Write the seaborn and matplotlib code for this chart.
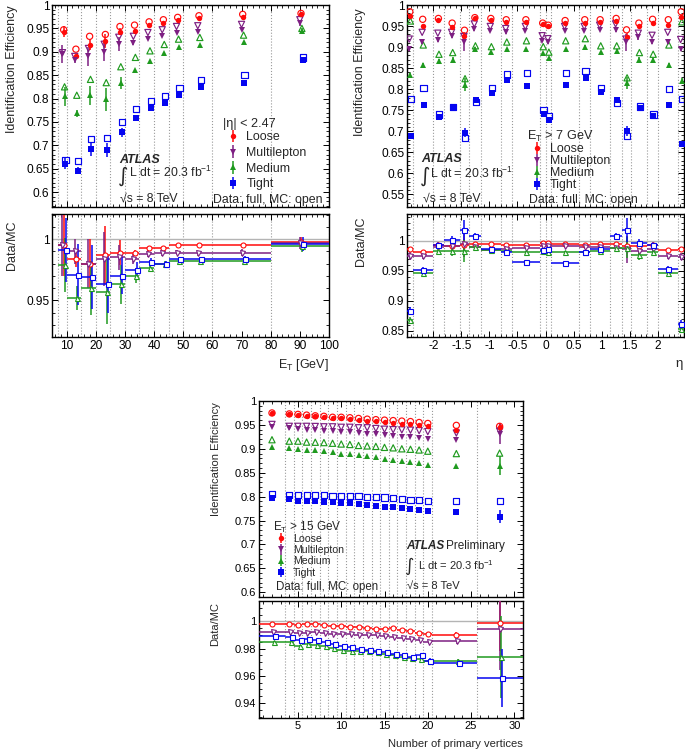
import numpy as np
import matplotlib
matplotlib.use("Agg")
import matplotlib.pyplot as plt
import seaborn as sns
from matplotlib.ticker import MultipleLocator, AutoMinorLocator, FuncFormatter

# ---------------- data: efficiency vs E_T ----------------
et_x = [9.0, 13.2, 17.9, 23.3, 28.3, 33.3, 38.3, 43.2, 48.1, 55.4, 70.4, 90.4]
et_edges = [7, 10, 15, 20, 25, 30, 35, 40, 45, 50, 60, 80, 100]

et_loose = [0.943, 0.890, 0.915, 0.923, 0.943, 0.945, 0.957, 0.961, 0.9685, 0.9714, 0.9735, 0.980]
et_loose_mc = [0.947, 0.9055, 0.933, 0.937, 0.954, 0.957, 0.964, 0.9685, 0.9735, 0.977, 0.980, 0.982]
et_loose_err = [0.012, 0.004, 0.012, 0.014, 0.008, 0.003, 0.002, 0.002, 0.002, 0.002, 0.002, 0.004]
et_ml = [0.895, 0.883, 0.890, 0.900, 0.916, 0.918, 0.928, 0.934, 0.941, 0.943, 0.947, 0.961]
et_ml_mc = [0.898, 0.890, 0.907, 0.916, 0.931, 0.933, 0.941, 0.947, 0.954, 0.9556, 0.9585, 0.9685]
et_ml_err = [0.02, 0.008, 0.02, 0.02, 0.015, 0.004, 0.003, 0.002, 0.002, 0.002, 0.003, 0.006]
et_med = [0.805, 0.768, 0.807, 0.798, 0.833, 0.860, 0.880, 0.897, 0.9106, 0.914, 0.920, 0.945]
et_med_mc = [0.825, 0.807, 0.841, 0.834, 0.868, 0.888, 0.902, 0.9156, 0.927, 0.9306, 0.9356, 0.950]
et_med_err = [0.02, 0.008, 0.02, 0.025, 0.012, 0.004, 0.003, 0.002, 0.002, 0.002, 0.003, 0.006]
et_tight = [0.661, 0.646, 0.691, 0.689, 0.728, 0.758, 0.780, 0.790, 0.808, 0.825, 0.834, 0.883]
et_tight_mc = [0.669, 0.666, 0.714, 0.716, 0.750, 0.777, 0.794, 0.805, 0.823, 0.840, 0.850, 0.8877]
et_tight_err = [0.012, 0.007, 0.014, 0.015, 0.01, 0.004, 0.003, 0.003, 0.002, 0.002, 0.003, 0.005]

et_loose_r = [0.995, 0.9835, 0.980, 0.987, 0.989, 0.989, 0.9925, 0.993, 0.995, 0.995, 0.995, 0.998]
et_loose_rerr = [0.025, 0.006, 0.02, 0.024, 0.01, 0.002, 0.002, 0.001, 0.001, 0.001, 0.001, 0.004]
et_ml_r = [0.995, 0.990, 0.980, 0.9835, 0.985, 0.984, 0.988, 0.9885, 0.989, 0.9885, 0.989, 0.997]
et_ml_rerr = [0.025, 0.01, 0.02, 0.022, 0.01, 0.004, 0.003, 0.002, 0.002, 0.002, 0.003, 0.005]
et_med_r = [0.979, 0.952, 0.960, 0.957, 0.963, 0.970, 0.976, 0.980, 0.982, 0.982, 0.982, 0.9945]
et_med_rerr = [0.022, 0.01, 0.022, 0.026, 0.016, 0.006, 0.003, 0.002, 0.002, 0.002, 0.003, 0.005]
et_tight_r = [0.991, 0.971, 0.969, 0.963, 0.970, 0.975, 0.9815, 0.980, 0.9835, 0.9835, 0.9835, 0.996]
et_tight_rerr = [0.026, 0.025, 0.026, 0.023, 0.015, 0.006, 0.003, 0.002, 0.002, 0.002, 0.003, 0.006]

# ---------------- data: efficiency vs eta ----------------
eta_x = [-2.42, -2.19, -1.91, -1.665, -1.445, -1.26, -0.975, -0.7, -0.35, -0.05,
         0.05, 0.35, 0.7, 0.975, 1.26, 1.445, 1.665, 1.91, 2.19, 2.42]
eta_edges = [-2.47, -2.37, -2.01, -1.81, -1.52, -1.37, -1.15, -0.8, -0.6, -0.1, 0.0,
             0.1, 0.6, 0.8, 1.15, 1.37, 1.52, 1.81, 2.01, 2.37, 2.47]

eta_loose = [0.973, 0.949, 0.965, 0.947, 0.927, 0.968, 0.965, 0.959, 0.960, 0.955,
             0.949, 0.957, 0.957, 0.960, 0.963, 0.925, 0.949, 0.957, 0.952, 0.972]
eta_loose_mc = [0.984, 0.966, 0.968, 0.957, 0.940, 0.970, 0.968, 0.965, 0.965, 0.957,
                0.952, 0.963, 0.965, 0.965, 0.968, 0.941, 0.957, 0.966, 0.965, 0.984]
eta_loose_err = [0.003, 0.002, 0.002, 0.003, 0.008, 0.002, 0.002, 0.002, 0.002, 0.002,
                 0.002, 0.002, 0.002, 0.002, 0.002, 0.008, 0.003, 0.002, 0.002, 0.003]
eta_ml = [0.896, 0.912, 0.917, 0.927, 0.911, 0.943, 0.939, 0.935, 0.939, 0.915,
          0.911, 0.939, 0.939, 0.941, 0.941, 0.911, 0.923, 0.912, 0.912, 0.896]
eta_ml_mc = [0.919, 0.935, 0.933, 0.935, 0.925, 0.955, 0.949, 0.944, 0.949, 0.927,
             0.920, 0.949, 0.949, 0.952, 0.955, 0.919, 0.933, 0.928, 0.935, 0.918]
eta_ml_err = [0.006, 0.004, 0.004, 0.006, 0.02, 0.004, 0.003, 0.003, 0.003, 0.003,
              0.003, 0.003, 0.003, 0.003, 0.004, 0.02, 0.006, 0.004, 0.004, 0.006]
eta_med = [0.833, 0.857, 0.867, 0.869, 0.811, 0.896, 0.888, 0.896, 0.896, 0.885,
           0.873, 0.896, 0.901, 0.888, 0.891, 0.815, 0.869, 0.869, 0.857, 0.820]
eta_med_mc = [0.962, 0.905, 0.883, 0.887, 0.825, 0.903, 0.901, 0.912, 0.915, 0.901,
              0.888, 0.915, 0.920, 0.903, 0.903, 0.827, 0.887, 0.883, 0.905, 0.960]
eta_med_err = [0.006, 0.006, 0.005, 0.008, 0.015, 0.004, 0.003, 0.003, 0.003, 0.003,
               0.003, 0.003, 0.003, 0.003, 0.004, 0.015, 0.008, 0.005, 0.006, 0.006]
eta_tight = [0.688, 0.763, 0.734, 0.755, 0.697, 0.775, 0.791, 0.822, 0.807, 0.742,
             0.726, 0.809, 0.827, 0.793, 0.775, 0.700, 0.755, 0.737, 0.762, 0.670]
eta_tight_mc = [0.777, 0.802, 0.740, 0.758, 0.684, 0.770, 0.803, 0.835, 0.839, 0.751,
                0.736, 0.839, 0.843, 0.803, 0.767, 0.689, 0.759, 0.740, 0.800, 0.777]
eta_tight_err = [0.004, 0.004, 0.004, 0.004, 0.01, 0.004, 0.003, 0.003, 0.003, 0.003,
                 0.003, 0.003, 0.003, 0.003, 0.004, 0.012, 0.004, 0.004, 0.004, 0.004]

eta_loose_r = [0.986, 0.982, 0.993, 0.992, 0.994, 0.9955, 0.9955, 0.993, 0.993, 0.997,
               0.997, 0.9945, 0.993, 0.9945, 0.9945, 0.992, 0.992, 0.993, 0.985, 0.987]
eta_loose_rerr = [0.003, 0.002, 0.002, 0.003, 0.01, 0.002, 0.002, 0.002, 0.002, 0.002,
                  0.002, 0.002, 0.002, 0.002, 0.002, 0.01, 0.003, 0.002, 0.002, 0.003]
eta_ml_r = [0.975, 0.975, 0.9905, 0.992, 0.9955, 0.990, 0.985, 0.987, 0.989, 0.9915,
            0.991, 0.9915, 0.990, 0.990, 0.988, 0.986, 0.983, 0.986, 0.975, 0.974]
eta_ml_rerr = [0.006, 0.005, 0.004, 0.006, 0.022, 0.004, 0.003, 0.003, 0.003, 0.003,
               0.003, 0.003, 0.003, 0.003, 0.004, 0.022, 0.006, 0.004, 0.005, 0.006]
eta_med_r = [0.868, 0.946, 0.983, 0.983, 0.983, 0.9905, 0.985, 0.983, 0.981, 0.983,
             0.982, 0.981, 0.981, 0.983, 0.988, 0.989, 0.977, 0.982, 0.946, 0.854]
eta_med_rerr = [0.006, 0.005, 0.005, 0.008, 0.018, 0.004, 0.003, 0.003, 0.003, 0.003,
                0.003, 0.003, 0.003, 0.003, 0.004, 0.018, 0.008, 0.005, 0.005, 0.006]
eta_tight_r = [0.883, 0.952, 0.993, 1.0017, 1.018, 1.008, 0.986, 0.982, 0.965, 0.985,
               0.987, 0.964, 0.982, 0.986, 1.009, 1.019, 0.997, 0.994, 0.953, 0.861]
eta_tight_rerr = [0.007, 0.005, 0.005, 0.006, 0.017, 0.005, 0.003, 0.003, 0.003, 0.003,
                  0.003, 0.003, 0.003, 0.003, 0.005, 0.02, 0.006, 0.005, 0.005, 0.007]

# ---------------- data: efficiency vs number of primary vertices ----------------
npv_x = [2, 4, 5, 6, 7, 8, 9, 10, 11, 12, 13, 14, 15, 16, 17, 18, 19, 20, 23.3, 28.3]
npv_edges = [0.5, 3.5, 4.5, 5.5, 6.5, 7.5, 8.5, 9.5, 10.5, 11.5, 12.5, 13.5, 14.5,
             15.5, 16.5, 17.5, 18.5, 19.5, 20.5, 25.7, 31.0]

npv_loose = [0.974, 0.972, 0.9705, 0.969, 0.968, 0.966, 0.965, 0.9635, 0.962, 0.961,
             0.959, 0.958, 0.956, 0.9537, 0.952, 0.951, 0.949, 0.947, 0.940, 0.945]
npv_loose_mc = [0.975, 0.973, 0.972, 0.9705, 0.969, 0.968, 0.966, 0.966, 0.965, 0.9635,
                0.962, 0.961, 0.960, 0.959, 0.958, 0.957, 0.955, 0.953, 0.949, 0.947]
npv_loose_err = [0.001, 0.001, 0.001, 0.001, 0.001, 0.001, 0.001, 0.001, 0.001, 0.001,
                 0.001, 0.001, 0.001, 0.001, 0.001, 0.001, 0.001, 0.001, 0.003, 0.01]
npv_ml = [0.945, 0.9425, 0.942, 0.940, 0.9396, 0.938, 0.937, 0.9355, 0.935, 0.933,
          0.932, 0.9305, 0.928, 0.927, 0.9256, 0.925, 0.9235, 0.921, 0.919, 0.931]
npv_ml_mc = [0.951, 0.947, 0.947, 0.947, 0.9467, 0.946, 0.946, 0.945, 0.945, 0.944,
             0.944, 0.9425, 0.941, 0.940, 0.9396, 0.939, 0.938, 0.936, 0.933, 0.937]
npv_ml_err = [0.001, 0.001, 0.001, 0.001, 0.001, 0.001, 0.001, 0.001, 0.001, 0.001,
              0.001, 0.001, 0.001, 0.001, 0.001, 0.001, 0.001, 0.002, 0.003, 0.02]
npv_med = [0.903, 0.902, 0.899, 0.8975, 0.897, 0.896, 0.893, 0.890, 0.889, 0.886,
           0.885, 0.883, 0.879, 0.877, 0.875, 0.872, 0.870, 0.867, 0.863, 0.865]
npv_med_mc = [0.919, 0.916, 0.916, 0.914, 0.9137, 0.913, 0.9116, 0.910, 0.909, 0.907,
              0.906, 0.905, 0.903, 0.902, 0.900, 0.899, 0.8975, 0.895, 0.890, 0.891]
npv_med_err = [0.001, 0.001, 0.001, 0.001, 0.001, 0.001, 0.001, 0.001, 0.001, 0.001,
               0.001, 0.001, 0.001, 0.001, 0.001, 0.001, 0.001, 0.002, 0.003, 0.02]
npv_tight = [0.7965, 0.795, 0.791, 0.791, 0.791, 0.788, 0.788, 0.786, 0.786, 0.784,
             0.7825, 0.780, 0.779, 0.7775, 0.7754, 0.774, 0.772, 0.769, 0.767, 0.758]
npv_tight_mc = [0.8056, 0.8035, 0.8035, 0.8035, 0.8035, 0.8035, 0.802, 0.802, 0.8014, 0.8007,
                0.799, 0.7986, 0.798, 0.7965, 0.795, 0.7937, 0.793, 0.7916, 0.791, 0.791]
npv_tight_err = [0.002, 0.001, 0.001, 0.001, 0.001, 0.001, 0.001, 0.001, 0.001, 0.001,
                 0.001, 0.001, 0.001, 0.001, 0.001, 0.001, 0.001, 0.002, 0.003, 0.013]

npv_loose_r = [0.9983, 0.9978, 0.9975, 0.9978, 0.9978, 0.997, 0.9968, 0.9963, 0.9958, 0.9958,
               0.995, 0.9946, 0.9946, 0.9953, 0.9939, 0.9926, 0.9916, 0.991, 0.990, 0.999]
npv_loose_rerr = [0.0008, 0.0008, 0.0008, 0.0008, 0.0008, 0.0008, 0.0008, 0.0008, 0.0008, 0.0008,
                  0.0008, 0.0008, 0.0008, 0.0008, 0.0008, 0.0008, 0.0008, 0.001, 0.002, 0.021]
npv_ml_r = [0.992, 0.992, 0.9914, 0.9914, 0.992, 0.9914, 0.991, 0.9904, 0.9904, 0.990,
            0.9897, 0.9897, 0.989, 0.9884, 0.988, 0.987, 0.9865, 0.9848, 0.9855, 0.9946]
npv_ml_rerr = [0.001, 0.001, 0.001, 0.001, 0.001, 0.001, 0.001, 0.001, 0.001, 0.001,
               0.001, 0.001, 0.001, 0.001, 0.001, 0.001, 0.001, 0.0015, 0.002, 0.03]
npv_med_r = [0.9848, 0.9848, 0.982, 0.9835, 0.983, 0.9816, 0.9806, 0.979, 0.9786, 0.9786,
             0.978, 0.9774, 0.976, 0.975, 0.9742, 0.9732, 0.9725, 0.9707, 0.9707, 0.9737]
npv_med_rerr = [0.001, 0.001, 0.001, 0.001, 0.001, 0.001, 0.001, 0.001, 0.001, 0.001,
                0.001, 0.001, 0.001, 0.001, 0.001, 0.001, 0.001, 0.0015, 0.002, 0.03]
npv_tight_r = [0.989, 0.9885, 0.986, 0.9872, 0.986, 0.9848, 0.9835, 0.982, 0.981, 0.980,
               0.979, 0.9786, 0.9774, 0.976, 0.975, 0.9737, 0.9754, 0.9712, 0.9693, 0.9584]
npv_tight_rerr = [0.0015, 0.0015, 0.0012, 0.0012, 0.0012, 0.0012, 0.0012, 0.0012, 0.0012, 0.0012,
                  0.0012, 0.0012, 0.0012, 0.0012, 0.0012, 0.0012, 0.0015, 0.002, 0.002, 0.021]

names = ["Loose", "Multilepton", "Medium", "Tight"]
colors = {"Loose": "#ff0a0a", "Multilepton": "#7d1f82", "Medium": "#1f9a1f", "Tight": "#0505f0"}
markers = {"Loose": "o", "Multilepton": "v", "Medium": "^", "Tight": "s"}

sns.set_style("ticks")
plt.rcParams["font.family"] = ["Liberation Sans", "DejaVu Sans"]
plt.rcParams["mathtext.fontset"] = "custom"
plt.rcParams["mathtext.rm"] = "Liberation Sans"
plt.rcParams["mathtext.it"] = "Liberation Sans:italic"
plt.rcParams["mathtext.bf"] = "Liberation Sans:bold"


def draw_pair(ax, axr, x, edges, eff, mc, err, rat, rerr, dx, rdx):
    edges = np.asarray(edges, dtype=float)
    for e in edges:
        ax.axvline(e, color="#9a9a9a", ls=":", lw=0.8, zorder=0)
        axr.axvline(e, color="#9a9a9a", ls=":", lw=0.8, zorder=0)
    axr.axhline(1.0, color="#b4b4b4", lw=1.0, zorder=1)
    lo, hi = edges[:-1], edges[1:]
    handles = []
    for n in names:
        c, m = colors[n], markers[n]
        xs = np.asarray(x, dtype=float) + dx[n]
        sns.scatterplot(x=xs, y=mc[n], ax=ax, marker=m, s=20, facecolor="none",
                        edgecolor=c, linewidth=0.85, legend=False, zorder=3)
        h = ax.errorbar(xs, eff[n], yerr=err[n], fmt=m, color=c, ms=3.9, mew=0,
                        elinewidth=1.1, capsize=0, label=n, zorder=4)
        handles.append(h)
        xr = np.asarray(x, dtype=float) + rdx[n]
        axr.errorbar(xr, rat[n], yerr=rerr[n], xerr=[xr - lo, hi - xr], fmt=m,
                     color=c, mfc="white", mec=c, ms=3.6, mew=0.8,
                     elinewidth=1.1, capsize=0, zorder=4)
    return handles


def style(ax, xlim, ylim, xmaj, xminor, ymaj, yminor, fs, xlabels):
    ax.set_xlim(*xlim)
    ax.set_ylim(*ylim)
    ax.xaxis.set_major_locator(MultipleLocator(xmaj))
    ax.xaxis.set_minor_locator(AutoMinorLocator(xminor))
    ax.yaxis.set_major_locator(MultipleLocator(ymaj))
    ax.yaxis.set_minor_locator(AutoMinorLocator(yminor))
    ax.yaxis.set_major_formatter(FuncFormatter(lambda v, p: f"{v:.3g}"))
    ax.xaxis.set_major_formatter(FuncFormatter(lambda v, p: f"{v:.3g}"))
    ax.tick_params(which="both", direction="in", top=True, right=True,
                   labelsize=fs, pad=2, colors="black")
    ax.tick_params(which="major", length=4, width=0.7)
    ax.tick_params(which="minor", length=2, width=0.6)
    if not xlabels:
        ax.tick_params(labelbottom=False)
    for s in ax.spines.values():
        s.set_linewidth(1.0)
        s.set_color("black")
    ax.set_xlabel("")
    ax.set_ylabel("")


def add_legend(ax, handles, header, hxy, lxy, fs, hfs, spacing):
    ax.text(hxy[0], hxy[1], header, transform=ax.transAxes, fontsize=hfs, va="baseline")
    leg = ax.legend(handles, names, loc="upper left", bbox_to_anchor=lxy,
                    frameon=False, fontsize=fs, handlelength=1.6,
                    handletextpad=0.3, labelspacing=spacing, borderpad=0,
                    borderaxespad=0)
    return leg


def add_atlas(ax, pos, fs, prelim_dx=None):
    x0, y0 = pos
    ax.text(x0, y0, "ATLAS", transform=ax.transAxes, fontsize=fs,
            fontweight="bold", fontstyle="italic")
    if prelim_dx is not None:
        ax.text(x0 + prelim_dx, y0, "Preliminary", transform=ax.transAxes, fontsize=fs)


fig = plt.figure(figsize=(6.85, 7.51), dpi=100)
W, H = 685.0, 751.0


def box(l, r, t, b):
    return [l / W, 1 - b / H, (r - l) / W, (b - t) / H]


# ---------------- panel 1: E_T ----------------
ax1 = fig.add_axes(box(52, 329, 5, 207))
ax1r = fig.add_axes(box(52, 329, 214, 337))
eff = {"Loose": et_loose, "Multilepton": et_ml, "Medium": et_med, "Tight": et_tight}
mc = {"Loose": et_loose_mc, "Multilepton": et_ml_mc, "Medium": et_med_mc, "Tight": et_tight_mc}
err = {"Loose": et_loose_err, "Multilepton": et_ml_err, "Medium": et_med_err, "Tight": et_tight_err}
rat = {"Loose": et_loose_r, "Multilepton": et_ml_r, "Medium": et_med_r, "Tight": et_tight_r}
rerr = {"Loose": et_loose_rerr, "Multilepton": et_ml_rerr, "Medium": et_med_rerr, "Tight": et_tight_rerr}
h1 = draw_pair(ax1, ax1r, et_x, et_edges, eff, mc, err, rat, rerr,
               {"Loose": 0, "Multilepton": -0.4, "Medium": 0.3, "Tight": 0.6},
               {"Loose": 0, "Multilepton": -0.4, "Medium": 0.4, "Tight": 0.8})
style(ax1, (5, 100), (0.568, 1.0), 10, 5, 0.05, 5, 8.6, False)
style(ax1r, (5, 100), (0.92, 1.0205), 10, 5, 0.05, 5, 8.6, True)
add_legend(ax1, h1, "|η| < 2.47", (0.617, 0.395), (0.617, 0.375), 8.9, 9.1, 0.3)
add_atlas(ax1, (0.242, 0.22), 9)
ax1.text(0.256, 0.15, "∫", transform=ax1.transAxes, fontsize=14.5, ha="center",
         va="center", family="DejaVu Sans")
ax1.text(0.278, 0.15, "L dt = 20.3 fb$^{-1}$", transform=ax1.transAxes, fontsize=8.8)
ax1.text(0.245, 0.026, "√s = 8 TeV", transform=ax1.transAxes, fontsize=8.8)
ax1.text(0.975, 0.02, "Data: full, MC: open", transform=ax1.transAxes, fontsize=8.9, ha="right")

# ---------------- panel 2: eta ----------------
ax2 = fig.add_axes(box(407, 684, 5, 207))
ax2r = fig.add_axes(box(407, 684, 214, 337))
eff = {"Loose": eta_loose, "Multilepton": eta_ml, "Medium": eta_med, "Tight": eta_tight}
mc = {"Loose": eta_loose_mc, "Multilepton": eta_ml_mc, "Medium": eta_med_mc, "Tight": eta_tight_mc}
err = {"Loose": eta_loose_err, "Multilepton": eta_ml_err, "Medium": eta_med_err, "Tight": eta_tight_err}
rat = {"Loose": eta_loose_r, "Multilepton": eta_ml_r, "Medium": eta_med_r, "Tight": eta_tight_r}
rerr = {"Loose": eta_loose_rerr, "Multilepton": eta_ml_rerr, "Medium": eta_med_rerr, "Tight": eta_tight_rerr}
zero = {n: 0 for n in names}
h2 = draw_pair(ax2, ax2r, eta_x, eta_edges, eff, mc, err, rat, rerr,
               {"Loose": 0, "Multilepton": -0.01, "Medium": 0.01, "Tight": 0.015}, zero)
style(ax2, (-2.47, 2.47), (0.52, 1.0), 0.5, 5, 0.05, 5, 8.6, False)
style(ax2r, (-2.47, 2.47), (0.84, 1.045), 0.5, 5, 0.05, 5, 8.6, True)
add_legend(ax2, h2, r"E$_\mathrm{T}$ > 7 GeV", (0.432, 0.332), (0.432, 0.316), 8.9, 9.1, 0.0)
add_atlas(ax2, (0.053, 0.224), 9)
ax2.text(0.065, 0.15, "∫", transform=ax2.transAxes, fontsize=14.5, ha="center",
         va="center", family="DejaVu Sans")
ax2.text(0.083, 0.142, "L dt = 20.3 fb$^{-1}$", transform=ax2.transAxes, fontsize=8.8)
ax2.text(0.059, 0.026, "√s = 8 TeV", transform=ax2.transAxes, fontsize=8.8)
ax2.text(0.4415, 0.018, "Data: full, MC: open", transform=ax2.transAxes, fontsize=8.8)

# ---------------- panel 3: number of primary vertices ----------------
ax3 = fig.add_axes(box(259, 523, 401, 597))
ax3r = fig.add_axes(box(259, 523, 601, 718))
eff = {"Loose": npv_loose, "Multilepton": npv_ml, "Medium": npv_med, "Tight": npv_tight}
mc = {"Loose": npv_loose_mc, "Multilepton": npv_ml_mc, "Medium": npv_med_mc, "Tight": npv_tight_mc}
err = {"Loose": npv_loose_err, "Multilepton": npv_ml_err, "Medium": npv_med_err, "Tight": npv_tight_err}
rat = {"Loose": npv_loose_r, "Multilepton": npv_ml_r, "Medium": npv_med_r, "Tight": npv_tight_r}
rerr = {"Loose": npv_loose_rerr, "Multilepton": npv_ml_rerr, "Medium": npv_med_rerr, "Tight": npv_tight_rerr}
h3 = draw_pair(ax3, ax3r, npv_x, npv_edges, eff, mc, err, rat, rerr, zero,
               {"Loose": 0, "Multilepton": 0.1, "Medium": 0.2, "Tight": 0.3})
style(ax3, (0.5, 31), (0.59, 1.0), 5, 5, 0.05, 5, 8, False)
style(ax3r, (0.5, 31), (0.929, 1.015), 5, 5, 0.02, 4, 8, True)
add_legend(ax3, h3, r"E$_\mathrm{T}$ > 15 GeV", (0.052, 0.336), (0.052, 0.322), 7.6, 8.5, 0.12)
add_atlas(ax3, (0.559, 0.245), 8.5, prelim_dx=0.148)
ax3.text(0.566, 0.16, "∫", transform=ax3.transAxes, fontsize=13, ha="center",
         va="center", family="DejaVu Sans")
ax3.text(0.603, 0.138, "L dt = 20.3 fb$^{-1}$", transform=ax3.transAxes, fontsize=8)
ax3.text(0.559, 0.039, "√s = 8 TeV", transform=ax3.transAxes, fontsize=8)
ax3.text(0.064, 0.036, "Data: full, MC: open", transform=ax3.transAxes, fontsize=8.3)

# ---------------- axis titles ----------------
fig.text(12 / W, 1 - 5 / H, "Identification Efficiency", rotation=90, ha="center", va="top", fontsize=9)
fig.text(12 / W, 1 - 221 / H, "Data/MC", rotation=90, ha="center", va="top", fontsize=9)
fig.text(360 / W, 1 - 8 / H, "Identification Efficiency", rotation=90, ha="center", va="top", fontsize=9)
fig.text(361 / W, 1 - 217 / H, "Data/MC", rotation=90, ha="center", va="top", fontsize=9)
fig.text(216 / W, 1 - 402 / H, "Identification Efficiency", rotation=90, ha="center", va="top", fontsize=8)
fig.text(215 / W, 1 - 602 / H, "Data/MC", rotation=90, ha="center", va="top", fontsize=8)
fig.text(329 / W, 1 - 368 / H, r"E$_\mathrm{T}$ [GeV]", ha="right", va="baseline", fontsize=9)
fig.text(683 / W, 1 - 367 / H, "η", ha="right", va="baseline", fontsize=9.5)
fig.text(523 / W, 1 - 747 / H, "Number of primary vertices", ha="right", va="baseline", fontsize=8.1)

fig.savefig("out.png", dpi=100)
